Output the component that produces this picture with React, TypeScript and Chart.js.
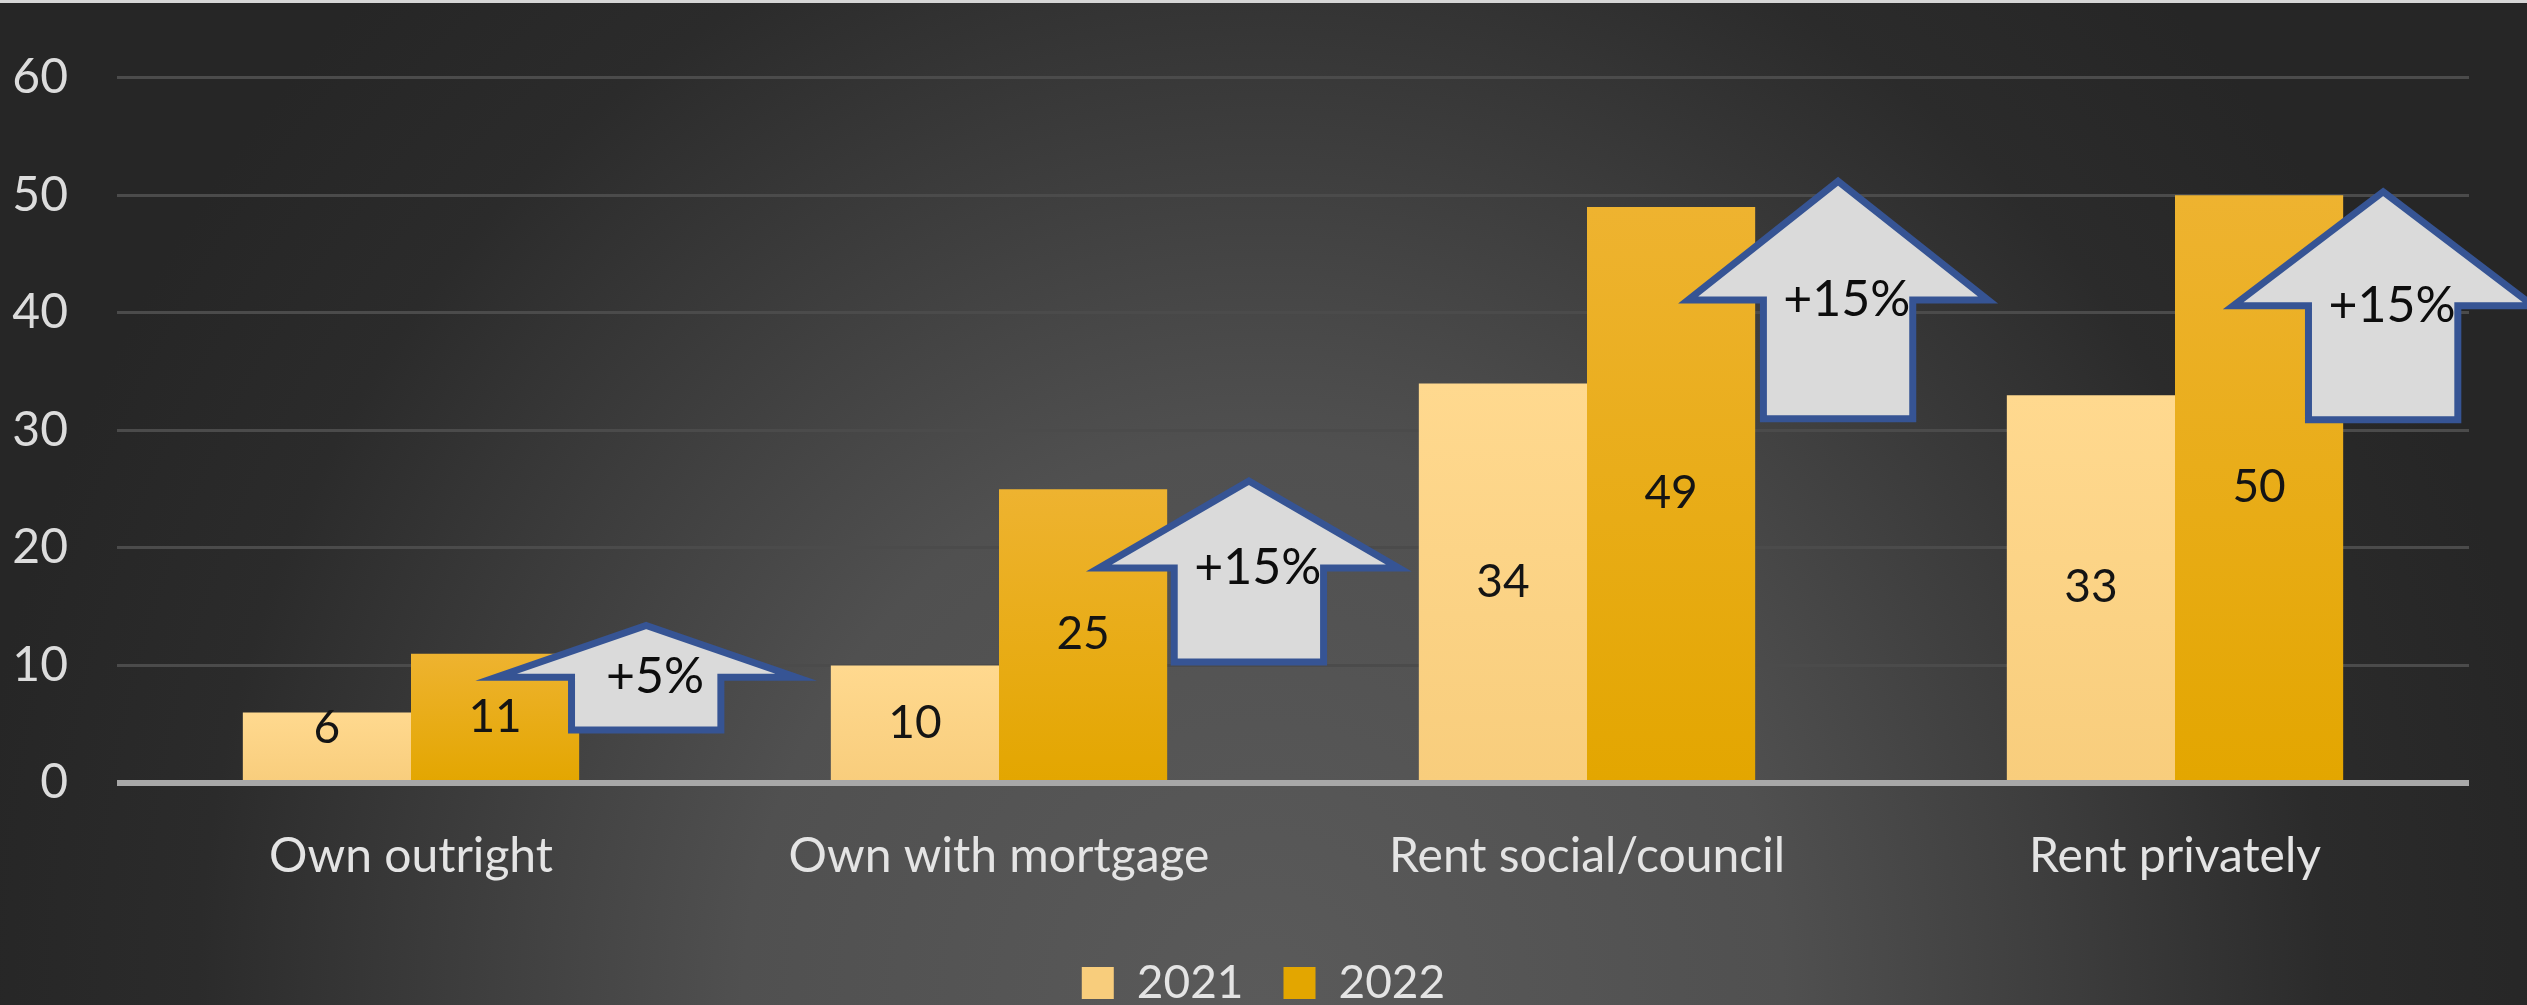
import React, { useEffect, useRef } from 'react';
import { Chart, registerables } from 'chart.js';

Chart.register(...registerables);

// ---- data ----
const categories = ['Own outright', 'Own with mortgage', 'Rent social/council', 'Rent privately'];
const seriesNames = ['2021', '2022'];
const values2021 = [6, 10, 34, 33];
const values2022 = [11, 25, 49, 50];
const yMin = 0;
const yMax = 60;
const yStep = 10;

// ---- callout arrows (annotations, in value units / category fractions) ----
const arrowLabels = ['+5%', '+15%', '+15%', '+15%'];
const arrowTipValues = [13.4, 25.7, 51.2, 50.3];
const arrowNeckValues = [9.0, 18.3, 41.1, 40.6];
const arrowBaseValues = [4.5, 10.3, 31.0, 30.9];
const arrowCategoryOffsets = [0.4, 0.425, 0.427, 0.354];

const FONT = 'Lato, "Open Sans", "DejaVu Sans", sans-serif';

function barFill(top: string, bottom: string, solid: string) {
  return (c: any) => {
    if (c.type !== 'data') return solid;
    const chart = c.chart;
    const ys = chart.scales && chart.scales.y;
    if (!ys || !chart.chartArea) return solid;
    const t = ys.getPixelForValue(c.raw);
    const b = ys.getPixelForValue(0);
    if (!isFinite(t) || !isFinite(b) || t === b) return solid;
    const g = chart.ctx.createLinearGradient(0, t, 0, b);
    g.addColorStop(0, top);
    g.addColorStop(1, bottom);
    return g;
  };
}

const backgroundPlugin = {
  id: 'bgPlugin',
  afterLayout(chart: any) {
    // center the legend on the whole canvas
    if (chart.legend) {
      chart.legend.left = 0;
      chart.legend.right = chart.width;
    }
  },
  beforeDraw(chart: any) {
    const { ctx, width, height } = chart;
    ctx.save();
    ctx.fillStyle = '#262626';
    ctx.fillRect(0, 0, width, height);
    const rx = 1300;
    const ry = 1400;
    ctx.translate(width / 2, height);
    ctx.scale(rx, ry);
    const g = ctx.createRadialGradient(0, 0, 0, 0, 0, 1);
    g.addColorStop(0, '#5a5a5a');
    g.addColorStop(0.4, '#505050');
    g.addColorStop(0.82, '#2b2b2b');
    g.addColorStop(1, '#262626');
    ctx.fillStyle = g;
    ctx.fillRect(-width / 2 / rx, -height / ry, width / rx, height / ry);
    ctx.restore();
    ctx.save();
    ctx.fillStyle = '#d6d6d6';
    ctx.fillRect(0, 0, width, 3);
    ctx.restore();
  },
};

const valueLabelsPlugin = {
  id: 'valueLabels',
  afterDatasetsDraw(chart: any) {
    const ctx = chart.ctx;
    ctx.save();
    ctx.font = `46px ${FONT}`;
    ctx.fillStyle = '#141414';
    ctx.textAlign = 'center';
    ctx.textBaseline = 'middle';
    chart.data.datasets.forEach((ds: any, di: number) => {
      const meta = chart.getDatasetMeta(di);
      meta.data.forEach((bar: any, i: number) => {
        const h = bar.base - bar.y;
        const y = h < 80 ? bar.y + 16 : (bar.y + bar.base) / 2;
        ctx.fillText(String(ds.data[i]), bar.x, y);
      });
    });
    ctx.restore();
  },
};

const arrowsPlugin = {
  id: 'arrowCallouts',
  afterDatasetsDraw(chart: any) {
    const { ctx } = chart;
    const xs = chart.scales.x;
    const ys = chart.scales.y;
    const catW = xs.width / categories.length;
    ctx.save();
    arrowLabels.forEach((label, i) => {
      const cx = xs.getPixelForValue(i) + arrowCategoryOffsets[i] * catW;
      const headHalf = 0.255 * catW;
      const shaftHalf = 0.127 * catW;
      const tip = ys.getPixelForValue(arrowTipValues[i]);
      const neck = ys.getPixelForValue(arrowNeckValues[i]);
      const base = ys.getPixelForValue(arrowBaseValues[i]);
      ctx.beginPath();
      ctx.moveTo(cx, tip);
      ctx.lineTo(cx + headHalf, neck);
      ctx.lineTo(cx + shaftHalf, neck);
      ctx.lineTo(cx + shaftHalf, base);
      ctx.lineTo(cx - shaftHalf, base);
      ctx.lineTo(cx - shaftHalf, neck);
      ctx.lineTo(cx - headHalf, neck);
      ctx.closePath();
      ctx.fillStyle = '#dadada';
      ctx.fill();
      ctx.lineJoin = 'miter';
      ctx.lineWidth = 7;
      ctx.strokeStyle = '#365494';
      ctx.stroke();
      ctx.fillStyle = '#0d0d0d';
      ctx.font = `50px ${FONT}`;
      ctx.textAlign = 'center';
      ctx.textBaseline = 'middle';
      ctx.fillText(label, cx + 0.015 * catW, neck);
    });
    ctx.restore();
  },
};

export default function App() {
  const ref = useRef<HTMLCanvasElement | null>(null);

  useEffect(() => {
    document.body.style.margin = '0';
    let chart: Chart | null = null;
    let cancelled = false;
    const fonts: any = (document as any).fonts;
    const ready: Promise<any> = fonts
      ? Promise.all([fonts.load('48px Lato'), fonts.load('50px Lato')]).catch(() => null)
      : Promise.resolve(null);
    ready.then(() => {
      if (cancelled || !ref.current) return;
      chart = new Chart(ref.current, {
        type: 'bar',
        data: {
          labels: categories,
          datasets: [
            {
              label: seriesNames[0],
              data: values2021,
              backgroundColor: barFill('#ffd98f', '#f8cd7c', '#ffd482') as any,
              borderWidth: 0,
              categoryPercentage: 0.572,
              barPercentage: 1.0,
            },
            {
              label: seriesNames[1],
              data: values2022,
              backgroundColor: barFill('#eeb330', '#e3a600', '#efb000') as any,
              borderWidth: 0,
              categoryPercentage: 0.572,
              barPercentage: 1.0,
            },
          ],
        },
        options: {
          responsive: false,
          maintainAspectRatio: false,
          animation: false,
          devicePixelRatio: 1,
          events: [],
          layout: { padding: { top: 74, right: 58, bottom: -11, left: 0 } },
          scales: {
            x: {
              grid: { display: false, drawTicks: false },
              border: { display: false },
              ticks: {
                color: '#e4e4e4',
                font: { family: FONT, size: 48 },
                padding: 45,
                maxRotation: 0,
                autoSkip: false,
              },
              afterFit: (s: any) => {
                s.height = 137;
              },
            },
            y: {
              min: yMin,
              max: yMax,
              ticks: {
                stepSize: yStep,
                color: '#dcdcdc',
                font: { family: FONT, size: 48 },
                padding: 49,
              },
              grid: {
                drawTicks: false,
                color: (c: any) => (c.tick && c.tick.value === 0 ? '#a8a8a8' : '#4b4b4b'),
                lineWidth: (c: any) => (c.tick && c.tick.value === 0 ? 6 : 3),
              },
              border: { display: false },
              afterFit: (s: any) => {
                s.width = 117;
              },
            },
          },
          plugins: {
            legend: {
              display: true,
              position: 'bottom',
              labels: {
                color: '#e4e4e4',
                font: { family: FONT, size: 46 },
                boxWidth: 32,
                boxHeight: 32,
                padding: 40,
              },
            },
            tooltip: { enabled: false },
            title: { display: false },
          },
        },
        plugins: [backgroundPlugin, valueLabelsPlugin, arrowsPlugin],
      } as any);
    });
    return () => {
      cancelled = true;
      if (chart) chart.destroy();
    };
  }, []);

  return (
    <canvas
      ref={ref}
      width={2527}
      height={1005}
      style={{ display: 'block', width: '2527px', height: '1005px' }}
    />
  );
}
